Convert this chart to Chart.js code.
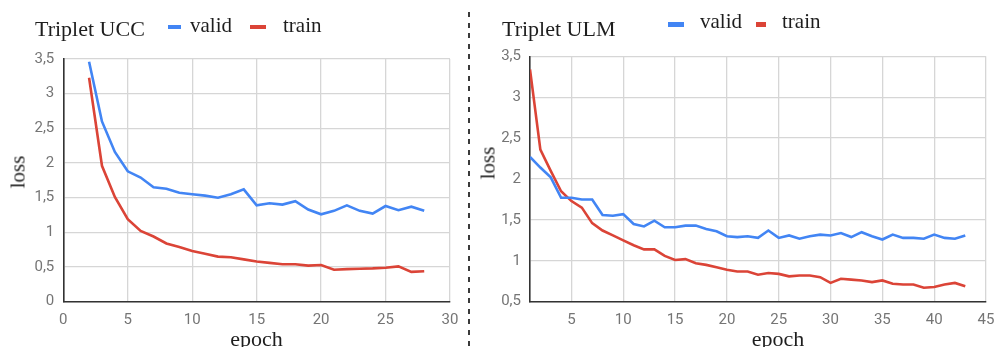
<!DOCTYPE html>
<html><head><meta charset="utf-8">
<script src="https://cdn.jsdelivr.net/npm/chart.js@4.4.1/dist/chart.umd.min.js"></script>
<style>
html,body{margin:0;padding:0;background:#fff}
body{width:995px;height:347px;overflow:hidden;position:relative;font-family:"Liberation Serif","Times New Roman",serif;color:#1e1e1e}
.cw{position:absolute;top:0;height:347px}
.t{position:absolute;white-space:nowrap;line-height:1}
.mk{position:absolute}
.div{position:absolute;left:468px;top:12px;width:2px;height:335px;background:repeating-linear-gradient(to bottom,#3a3a3a 0 5px,transparent 5px 10.6px)}
</style></head>
<body>
<div class="cw" style="left:0;width:462px"><canvas id="c1" width="462" height="347"></canvas></div>
<div class="cw" style="left:472px;width:523px"><canvas id="c2" width="523" height="347"></canvas></div>
<div class="div"></div>

<div class="t" style="left:35px;top:17.5px;font-size:22px">Triplet UCC</div>
<div class="mk" style="left:168px;top:25px;width:13px;height:4px;background:#4285f4"></div>
<div class="t" style="left:190px;top:14.7px;font-size:21px">valid</div>
<div class="mk" style="left:250px;top:25px;width:16px;height:4px;background:#db4437"></div>
<div class="t" style="left:283px;top:14.7px;font-size:21px">train</div>
<div class="t" style="left:17.5px;top:171.5px;font-size:21px;transform:translate(-50%,-50%) rotate(-90deg)">loss</div>
<div class="t" style="left:256.5px;top:328px;font-size:22px;transform:translateX(-50%)">epoch</div>

<div class="t" style="left:502px;top:17.5px;font-size:22px">Triplet ULM</div>
<div class="mk" style="left:668px;top:22px;width:16px;height:4.5px;background:#4285f4"></div>
<div class="t" style="left:700px;top:11.4px;font-size:21px">valid</div>
<div class="mk" style="left:756px;top:22px;width:10px;height:4.5px;background:#db4437"></div>
<div class="t" style="left:782px;top:11.4px;font-size:21px">train</div>
<div class="t" style="left:487.5px;top:163px;font-size:21px;transform:translate(-50%,-50%) rotate(-90deg)">loss</div>
<div class="t" style="left:778px;top:328px;font-size:22px;transform:translateX(-50%)">epoch</div>

<script>
// ---- Triplet UCC ----
const epochsUCC = [2,3,4,5,6,7,8,9,10,11,12,13,14,15,16,17,18,19,20,21,22,23,24,25,26,27,28];
const validUCC = [3.46,2.6,2.16,1.88,1.79,1.65,1.63,1.57,1.55,1.53,1.5,1.55,1.62,1.39,1.42,1.4,1.45,1.33,1.26,1.31,1.39,1.31,1.27,1.38,1.32,1.37,1.31];
const trainUCC = [3.23,1.96,1.51,1.19,1.02,0.94,0.84,0.79,0.73,0.69,0.65,0.64,0.61,0.58,0.56,0.54,0.54,0.52,0.53,0.46,0.47,0.475,0.48,0.49,0.51,0.43,0.44];
const xTicksUCC = [0,5,10,15,20,25,30];
const yTicksUCC = [0,0.5,1,1.5,2,2.5,3,3.5];
const yLabelsUCC = ['0','0,5','1','1,5','2','2,5','3','3,5'];

// ---- Triplet ULM ----
const epochsULM = [1,2,3,4,5,6,7,8,9,10,11,12,13,14,15,16,17,18,19,20,21,22,23,24,25,26,27,28,29,30,31,32,33,34,35,36,37,38,39,40,41,42,43];
const validULM = [2.27,2.14,2.02,1.77,1.77,1.75,1.75,1.56,1.55,1.57,1.45,1.42,1.49,1.41,1.41,1.43,1.43,1.39,1.36,1.3,1.29,1.3,1.28,1.37,1.28,1.31,1.27,1.3,1.32,1.31,1.34,1.29,1.35,1.3,1.26,1.32,1.28,1.28,1.27,1.32,1.28,1.27,1.31];
const trainULM = [3.34,2.36,2.1,1.85,1.73,1.65,1.46,1.37,1.31,1.25,1.19,1.14,1.14,1.06,1.01,1.02,0.97,0.95,0.92,0.89,0.87,0.87,0.83,0.85,0.84,0.81,0.82,0.82,0.8,0.73,0.78,0.77,0.76,0.74,0.76,0.72,0.71,0.71,0.67,0.68,0.71,0.73,0.69];
const xTicksULM = [5,10,15,20,25,30,35,40,45];
const yTicksULM = [0.5,1,1.5,2,2.5,3,3.5];
const yLabelsULM = ['0,5','1','1,5','2','2,5','3','3,5'];

const BLUE = '#4285f4', RED = '#db4437';
const GRID = '#d6d6d6', AXIS = '#333333', TICK = '#757575';

function pts(xs, ys){ return xs.map((x,i)=>({x:x, y:ys[i]})); }

function makeChart(id, cfg){
  return new Chart(document.getElementById(id), {
    type:'line',
    data:{datasets:[
      {label:'valid', data:pts(cfg.ex, cfg.valid), borderColor:BLUE, backgroundColor:BLUE, borderWidth:2.6, pointRadius:0, tension:0},
      {label:'train', data:pts(cfg.ex, cfg.train), borderColor:RED, backgroundColor:RED, borderWidth:2.6, pointRadius:0, tension:0}
    ]},
    options:{
      responsive:false, animation:false, events:[],
      layout:{padding:cfg.pad},
      plugins:{legend:{display:false}, title:{display:false}, tooltip:{enabled:false}},
      scales:{
        x:{type:'linear', min:cfg.xmin, max:cfg.xmax,
           afterBuildTicks:s=>{s.ticks = cfg.xt.map(v=>({value:v}));},
           afterFit:s=>{s.height = cfg.xh; s.paddingLeft = 0; s.paddingRight = 0;},
           grid:{color:GRID, lineWidth:1.3, drawTicks:false},
           border:{display:true, color:AXIS, width:1.6},
           ticks:{color:TICK, padding:10, maxRotation:0, autoSkip:false, font:{family:'Roboto', size:15}}},
        y:{type:'linear', min:cfg.ymin, max:cfg.ymax,
           afterBuildTicks:s=>{s.ticks = cfg.yt.map(v=>({value:v}));},
           afterFit:s=>{s.width = cfg.yw; s.paddingTop = 0; s.paddingBottom = 0;},
           grid:{color:GRID, lineWidth:1.3, drawTicks:false},
           border:{display:true, color:AXIS, width:1.6},
           ticks:{color:TICK, padding:9, autoSkip:false, font:{family:'Roboto', size:15},
                  callback:(v,i)=>cfg.yl[i]}}
      }
    }
  });
}

makeChart('c1', {ex:epochsUCC, valid:validUCC, train:trainUCC, xmin:0, xmax:30, ymin:0, ymax:3.5,
  xt:xTicksUCC, yt:yTicksUCC, yl:yLabelsUCC, pad:{left:0,right:12,top:59,bottom:0}, xh:45.3, yw:63.3});
makeChart('c2', {ex:epochsULM, valid:validULM, train:trainULM, xmin:1, xmax:45, ymin:0.5, ymax:3.5,
  xt:xTicksULM, yt:yTicksULM, yl:yLabelsULM, pad:{left:0,right:9,top:56.3,bottom:0}, xh:45.3, yw:58});
</script>
</body></html>
